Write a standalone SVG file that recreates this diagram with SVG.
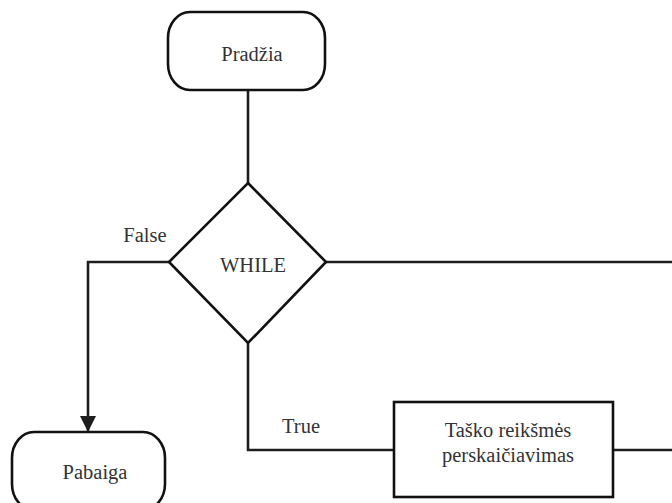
<svg xmlns="http://www.w3.org/2000/svg" width="672" height="503" viewBox="0 0 672 503">
  <defs>
    <marker id="arrow" viewBox="0 0 16 16" refX="15" refY="8" markerWidth="16" markerHeight="16" markerUnits="userSpaceOnUse" orient="auto">
      <path d="M0,0 L16,8 L0,16 Z" fill="#1e1e1e"/>
    </marker>
    <style>
      .shape { fill: #ffffff; stroke: #111111; stroke-width: 2.6; }
      .conn { fill: none; stroke: #1e1e1e; stroke-width: 2.6; }
      .lbl { font-size: 20.5px; fill: #333333; text-anchor: middle; }
    </style>
  </defs>
  <rect width="672" height="503" fill="#ffffff"/>

  <g id="connectors">
    <path class="conn" d="M248,90 V183"/>
    <path class="conn" d="M169,262 H88 V431" marker-end="url(#arrow)"/>
    <path class="conn" d="M326,262 H672"/>
    <path class="conn" d="M248,343 V450 H394"/>
    <path class="conn" d="M613,450 H672"/>
  </g>

  <g font-family="'Liberation Serif', 'Times New Roman', 'DejaVu Serif', serif">
    <g id="start">
      <rect class="shape" x="168" y="12" width="157" height="78" rx="22" ry="26"/>
      <text class="lbl" x="252" y="61">Pradžia</text>
    </g>

    <g id="while">
      <polygon class="shape" points="248,183 326,262 248,343 169,262"/>
      <text class="lbl" x="253" y="272">WHILE</text>
    </g>

    <g id="label-false">
      <text class="lbl" x="145" y="242">False</text>
    </g>

    <g id="label-true">
      <text class="lbl" x="301" y="433">True</text>
    </g>

    <g id="recalc">
      <rect class="shape" x="394" y="402" width="219" height="95"/>
      <text class="lbl" x="508" y="437">Taško reikšmės</text>
      <text class="lbl" x="508" y="462">perskaičiavimas</text>
    </g>

    <g id="end">
      <rect class="shape" x="12" y="432" width="153" height="78" rx="22" ry="26"/>
      <text class="lbl" x="95" y="479">Pabaiga</text>
    </g>
  </g>
</svg>
